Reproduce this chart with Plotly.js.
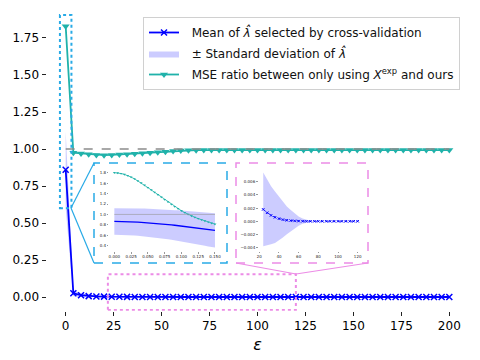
<!DOCTYPE html>
<html>
<head>
<meta charset="utf-8">
<script src="https://cdn.plot.ly/plotly-3.0.1.min.js"></script>
<style>
  body { margin: 0; padding: 0; background: #fff; }
  #chart { width: 480px; height: 360px; }
</style>
</head>
<body>
<div id="chart"></div>
<script>
    // epsilon grid of the main plot
    var eps = [0, 4, 8, 12, 16, 20, 24, 28, 32, 36, 40, 44, 48, 52, 56, 60, 64, 68, 72, 76,
        80, 84, 88, 92, 96, 100, 104, 108, 112, 116, 120, 124, 128, 132, 136, 140, 144, 148,
        152, 156, 160, 164, 168, 172, 176, 180, 184, 188, 192, 196, 200];

    var meanLam = [0.86, 0.025, 0.012, 0.006, 0.004, 0.0025, 0.0018, 0.0013, 0.0009, 0.0006,
        0.0004, 0.00025, 0.00015, 0.0001, 0.00006, 0.00003, 0.00001, 0, 0, 0,
        0, 0, 0, 0, 0, 0, 0, 0, 0, 0, 0, 0, 0, 0, 0, 0, 0, 0, 0, 0,
        0, 0, 0, 0, 0, 0, 0, 0, 0, 0, 0];

    var stdLam = [0.26, 0.02, 0.012, 0.008, 0.0065, 0.006, 0.0056, 0.005, 0.0044, 0.0039,
        0.0033, 0.0027, 0.0021, 0.0016, 0.0011, 0.0007, 0.0004, 0.0002, 0.0001, 0.00005,
        0, 0, 0, 0, 0, 0, 0, 0, 0, 0, 0, 0, 0, 0, 0, 0, 0, 0, 0, 0,
        0, 0, 0, 0, 0, 0, 0, 0, 0, 0, 0];

    var mseRatio = [1.83, 0.975, 0.97, 0.965, 0.96, 0.958, 0.96, 0.963, 0.965, 0.968,
        0.972, 0.975, 0.978, 0.982, 0.986, 0.99, 0.991, 0.992, 0.993, 0.993,
        0.994, 0.993, 0.994, 0.993, 0.993, 0.994, 0.993, 0.994, 0.993, 0.993, 0.994, 0.993,
        0.994, 0.993, 0.993, 0.994, 0.993, 0.993, 0.994, 0.993, 0.994, 0.993, 0.993, 0.994,
        0.993, 0.993, 0.994, 0.993, 0.993, 0.994, 0.993];

    // zoom near epsilon = 0 (first inset)
    var epsSmall = [0, 0.005, 0.01, 0.015, 0.02, 0.025, 0.03, 0.035, 0.04, 0.045, 0.05,
        0.055, 0.06, 0.065, 0.07, 0.075, 0.08, 0.085, 0.09, 0.095, 0.1,
        0.105, 0.11, 0.115, 0.12, 0.125, 0.13, 0.135, 0.14, 0.145, 0.15];

    var mseSmall = [1.800, 1.795, 1.785, 1.768, 1.745, 1.716, 1.683, 1.645, 1.604, 1.560, 1.515,
        1.470, 1.424, 1.378, 1.332, 1.286, 1.240, 1.195, 1.152, 1.110, 1.071,
        1.035, 1.002, 0.972, 0.945, 0.920, 0.896, 0.874, 0.853, 0.833, 0.814];

    var meanSmall = [0.865, 0.865, 0.864, 0.863, 0.861, 0.859, 0.856, 0.853, 0.849, 0.845, 0.841,
        0.836, 0.831, 0.825, 0.819, 0.813, 0.806, 0.799, 0.792, 0.785, 0.777,
        0.769, 0.761, 0.752, 0.744, 0.735, 0.727, 0.718, 0.710, 0.702, 0.695];

    var stdSmall = [0.255, 0.256, 0.257, 0.258, 0.259, 0.261, 0.262, 0.264, 0.266, 0.268, 0.270,
        0.272, 0.274, 0.277, 0.279, 0.282, 0.284, 0.287, 0.290, 0.293, 0.296,
        0.299, 0.302, 0.306, 0.309, 0.313, 0.316, 0.320, 0.323, 0.327, 0.330];

    // second inset shows eps 24..120 of the main series
    var zoomFrom = 6, zoomTo = 31;

    var BLUE = 'rgb(0, 0, 255)';
    var BAND = 'rgba(0, 0, 255, 0.2)';
    var TEAL = 'rgb(32, 178, 170)';
    var SKY = 'rgb(40, 170, 230)';
    var PINK = 'rgb(236, 140, 230)';
    var FONT = 'DejaVu Sans, sans-serif';
    var PAD = '\u00a0\u00a0';   // pushes legend text right a little

    function lower(m, s) { return m.map(function (v, i) { return v - s[i]; }); }
    function upper(m, s) { return m.map(function (v, i) { return v + s[i]; }); }

    // pixel -> paper helpers (margins are 0, so paper = whole figure)
    function px(x) { return x / 480; }
    function py(y) { return 1 - y / 360; }

    var traces = [];

    // main plot
    traces.push({ x: eps, y: lower(meanLam, stdLam), type: 'scatter', mode: 'lines',
        line: { width: 0 }, showlegend: false, hoverinfo: 'skip', legendgroup: 'b' });
    traces.push({ x: eps, y: upper(meanLam, stdLam), type: 'scatter', mode: 'lines',
        fill: 'tonexty', fillcolor: BAND, line: { width: 0, color: BAND },
        name: PAD + '± Standard deviation of <i>λ̂</i>', legendrank: 2, legendgroup: 'b' });
    traces.push({ x: eps, y: meanLam, type: 'scatter', mode: 'lines+markers',
        line: { color: BLUE, width: 1.8 },
        marker: { symbol: 'x-thin', size: 6, line: { color: BLUE, width: 1.5 } },
        name: PAD + 'Mean of <i>λ̂</i> selected by cross-validation', legendrank: 1, legendgroup: 'a' });
    traces.push({ x: eps, y: mseRatio, type: 'scatter', mode: 'lines+markers',
        line: { color: TEAL, width: 1.8 },
        marker: { symbol: 'triangle-down', size: 7, color: TEAL },
        name: PAD + 'MSE ratio between only using <i>X</i><sup>exp</sup> and ours', legendrank: 3,
        legendgroup: 'c' });

    // inset 1
    traces.push({ x: epsSmall, y: lower(meanSmall, stdSmall), xaxis: 'x2', yaxis: 'y2',
        type: 'scatter', mode: 'lines', line: { width: 0 }, showlegend: false, hoverinfo: 'skip' });
    traces.push({ x: epsSmall, y: upper(meanSmall, stdSmall), xaxis: 'x2', yaxis: 'y2',
        type: 'scatter', mode: 'lines', fill: 'tonexty', fillcolor: BAND,
        line: { width: 0 }, showlegend: false });
    traces.push({ x: epsSmall, y: meanSmall, xaxis: 'x2', yaxis: 'y2', type: 'scatter',
        mode: 'lines', line: { color: BLUE, width: 1.3 }, showlegend: false });
    traces.push({ x: epsSmall, y: mseSmall, xaxis: 'x2', yaxis: 'y2', type: 'scatter',
        mode: 'lines+markers', line: { color: TEAL, width: 0.8 },
        marker: { symbol: 'triangle-down', size: 2.5, color: TEAL }, showlegend: false });

    // inset 2
    var epsZ = eps.slice(zoomFrom, zoomTo);
    var meanZ = meanLam.slice(zoomFrom, zoomTo);
    var stdZ = stdLam.slice(zoomFrom, zoomTo);
    traces.push({ x: epsZ, y: lower(meanZ, stdZ), xaxis: 'x3', yaxis: 'y3',
        type: 'scatter', mode: 'lines', line: { width: 0 }, showlegend: false, hoverinfo: 'skip' });
    traces.push({ x: epsZ, y: upper(meanZ, stdZ), xaxis: 'x3', yaxis: 'y3',
        type: 'scatter', mode: 'lines', fill: 'tonexty', fillcolor: BAND,
        line: { width: 0 }, showlegend: false });
    traces.push({ x: epsZ, y: meanZ, xaxis: 'x3', yaxis: 'y3', type: 'scatter',
        mode: 'lines+markers', line: { color: BLUE, width: 0.8, dash: 'dot' },
        marker: { symbol: 'x-thin', size: 2.5, line: { color: BLUE, width: 1 } }, showlegend: false });

    var insetTicks = {
        showgrid: false, zeroline: false, showline: false,
        ticks: 'outside', ticklen: 1.5, tickwidth: 0.5, tickcolor: '#333',
        tickfont: { family: FONT, size: 4, color: '#222' }
    };

    var layout = {
        width: 480,
        height: 360,
        margin: { l: 0, r: 0, t: 0, b: 0 },
        paper_bgcolor: 'white',
        plot_bgcolor: 'rgba(0,0,0,0)',
        font: { family: FONT, color: '#000' },
        showlegend: true,
        legend: {
            x: px(143), y: py(17), xanchor: 'left', yanchor: 'top',
            traceorder: 'grouped', tracegroupgap: 2,
            bgcolor: 'rgba(255,255,255,0.8)', bordercolor: '#d0d0d0', borderwidth: 1,
            font: { family: FONT, size: 12, color: '#111' }
        },
        xaxis: {
            domain: [px(46.5), px(468.5)], anchor: 'y',
            range: [-10, 210], tickvals: [0, 25, 50, 75, 100, 125, 150, 175, 200],
            showgrid: false, zeroline: false, showline: false,
            ticks: 'outside', ticklen: 4, tickcolor: '#222',
            tickfont: { family: FONT, size: 12, color: '#000' },
            title: { text: '<i>ε</i>', font: { family: FONT, size: 16 }, standoff: 6 }
        },
        yaxis: {
            domain: [py(310.7), py(9.5)], anchor: 'x',
            range: [-0.0925, 1.9425], tick0: 0, dtick: 0.25, tickformat: '.2f',
            showgrid: false, zeroline: false, showline: false,
            ticks: 'outside', ticklen: 4, tickcolor: '#222',
            tickfont: { family: FONT, size: 12, color: '#000' }
        },
        xaxis2: Object.assign({}, insetTicks, {
            domain: [px(109.3), px(220)], anchor: 'y2',
            range: [-0.0075, 0.1575], tick0: 0, dtick: 0.025, tickformat: '.3f'
        }),
        yaxis2: Object.assign({}, insetTicks, {
            domain: [py(251), py(169)], anchor: 'x2',
            range: [0.2985, 1.8715], tick0: 0.4, dtick: 0.2, tickformat: '.1f'
        }),
        xaxis3: Object.assign({}, insetTicks, {
            domain: [px(258.5), px(362.4)], anchor: 'y3',
            range: [19.2, 124.8], tick0: 20, dtick: 20
        }),
        yaxis3: Object.assign({}, insetTicks, {
            domain: [py(250.7), py(168.8)], anchor: 'x3',
            range: [-0.00446, 0.00796], tick0: -0.004, dtick: 0.002, tickformat: '.3f'
        }),
        shapes: [
            // reference line at ratio = 1
            { type: 'line', xref: 'x', yref: 'y', x0: 0, x1: 200, y0: 1, y1: 1,
              line: { color: 'rgb(140,140,140)', width: 1.6, dash: 'dash' } },
            { type: 'line', xref: 'x2', yref: 'y2', x0: 0, x1: 0.15, y0: 1, y1: 1,
              line: { color: 'rgb(150,150,150)', width: 0.6 } },
            // zoom regions on the main plot
            { type: 'rect', xref: 'x', yref: 'y', x0: -3, x1: 3, y0: 0.6, y1: 1.905,
              line: { color: SKY, width: 2, dash: 'dot' } },
            { type: 'rect', xref: 'x', yref: 'y', x0: 22, x1: 120, y0: -0.088, y1: 0.153,
              line: { color: PINK, width: 2, dash: 'dot' } },
            // inset frames
            { type: 'rect', xref: 'paper', yref: 'paper', x0: px(94), x1: px(227), y0: py(263), y1: py(163),
              line: { color: SKY, width: 1.5, dash: 'dash' } },
            { type: 'rect', xref: 'paper', yref: 'paper', x0: px(236), x1: px(368), y0: py(263), y1: py(163),
              line: { color: PINK, width: 1.5, dash: 'dash' } },
            // connector lines
            { type: 'line', xref: 'paper', yref: 'paper', x0: px(71), y0: py(208), x1: px(94), y1: py(163),
              line: { color: SKY, width: 1.2 } },
            { type: 'line', xref: 'paper', yref: 'paper', x0: px(71), y0: py(208), x1: px(94), y1: py(263),
              line: { color: SKY, width: 1.2 } },
            { type: 'line', xref: 'paper', yref: 'paper', x0: px(236), y0: py(263), x1: px(296), y1: py(274),
              line: { color: PINK, width: 1.2 } },
            { type: 'line', xref: 'paper', yref: 'paper', x0: px(368), y0: py(263), x1: px(296), y1: py(274),
              line: { color: PINK, width: 1.2 } }
        ]
    };

    Plotly.newPlot('chart', traces, layout, { displayModeBar: false, staticPlot: true });
</script>
</body>
</html>
